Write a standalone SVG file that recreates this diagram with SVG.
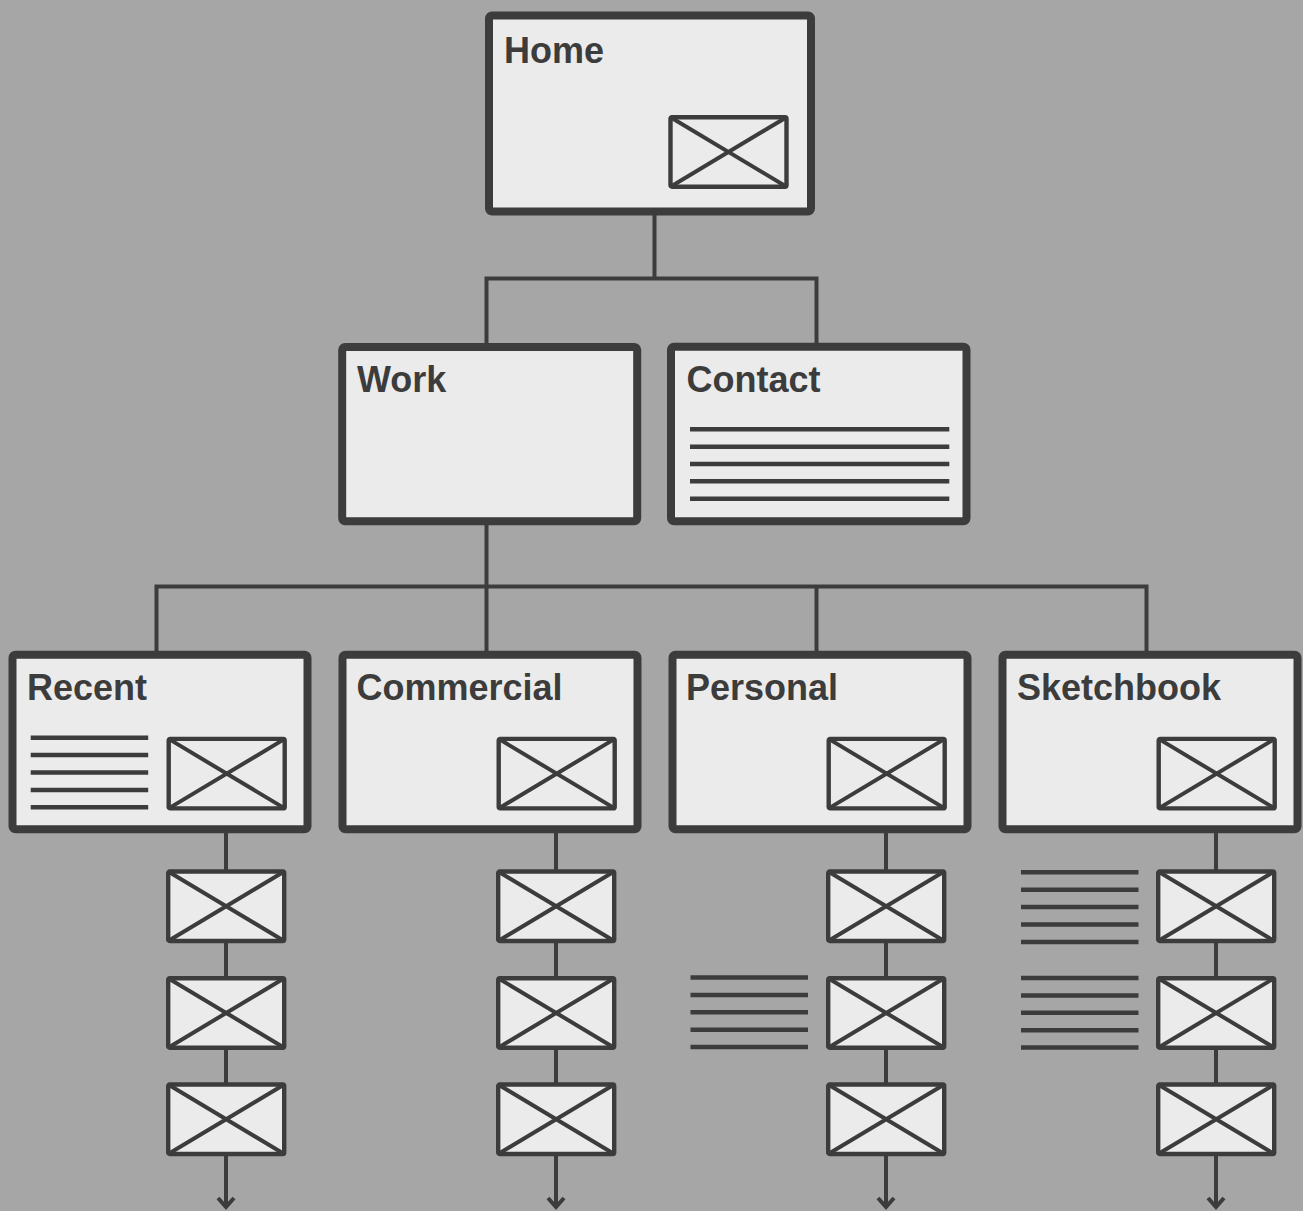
<svg xmlns="http://www.w3.org/2000/svg" width="1303" height="1211" viewBox="0 0 1303 1211">
<defs>
<style>
.box{fill:#ebebeb;stroke:#3c3c3c;stroke-width:8}
.img{fill:#ebebeb;stroke:#3c3c3c;stroke-width:4.4}
.x{stroke:#3c3c3c;stroke-width:4;fill:none}
.ln{stroke:#3c3c3c;stroke-width:4.5;fill:none}
.con{stroke:#3c3c3c;stroke-width:4;fill:none}
.lbl{font-family:"Liberation Sans",Arial,sans-serif;font-weight:bold;font-size:36px;fill:#3c3c3c}
</style>
<marker id="arr" markerUnits="userSpaceOnUse" markerWidth="20" markerHeight="20" refX="0" refY="0" orient="auto" overflow="visible">
<path d="M-9,-8 L0,0 L-9,8" fill="none" stroke="#3c3c3c" stroke-width="4"/>
</marker>
<g id="pic">
<rect class="img" x="0" y="0" width="116" height="69.5" rx="1.5"/>
<path class="x" d="M0,0 L116,69.5 M116,0 L0,69.5"/>
</g>
<g id="lines">
<path class="ln" d="M0,0 H117.5 M0,17.4 H117.5 M0,34.8 H117.5 M0,52.2 H117.5 M0,69.6 H117.5"/>
</g>
</defs>
<rect width="1303" height="1211" fill="#a6a6a6"/>

<g id="connectors">
<path class="con" d="M654.5,215 V278.5 M486.5,343 V278.5 H816.5 V343"/>
<path class="con" d="M486.5,525 V651 M156.5,651 V586.5 H1146.5 V651 M816.5,586.5 V651"/>
<line class="con" x1="226" y1="833" x2="226" y2="1207" marker-end="url(#arr)"/>
<line class="con" x1="556" y1="833" x2="556" y2="1207" marker-end="url(#arr)"/>
<line class="con" x1="886" y1="833" x2="886" y2="1207" marker-end="url(#arr)"/>
<line class="con" x1="1216" y1="833" x2="1216" y2="1207" marker-end="url(#arr)"/>
</g>

<g id="home">
<rect class="box" x="489" y="15.5" width="322" height="196" rx="3"/>
<text class="lbl" x="504" y="63">Home</text>
<use href="#pic" x="670.5" y="117.2"/>
</g>

<g id="work">
<rect class="box" x="342.2" y="347" width="295" height="174.2" rx="3"/>
<text class="lbl" x="357" y="392">Work</text>
</g>

<g id="contact">
<rect class="box" x="671" y="346.8" width="295.5" height="174.4" rx="3"/>
<text class="lbl" x="686.5" y="392">Contact</text>
<path class="ln" d="M690,429.3 H949.3 M690,446.7 H949.3 M690,464 H949.3 M690,481.3 H949.3 M690,498.7 H949.3"/>
</g>

<g id="recent">
<rect class="box" x="12.5" y="654.8" width="295" height="174.4" rx="3"/>
<text class="lbl" x="27" y="700">Recent</text>
<use href="#lines" x="30.7" y="737.7"/>
<use href="#pic" x="168.7" y="738.9"/>
</g>

<g id="commercial">
<rect class="box" x="342.5" y="654.8" width="295" height="174.4" rx="3"/>
<text class="lbl" x="356.5" y="700">Commercial</text>
<use href="#pic" x="498.7" y="738.9"/>
</g>

<g id="personal">
<rect class="box" x="672.5" y="654.8" width="295" height="174.4" rx="3"/>
<text class="lbl" x="686" y="700">Personal</text>
<use href="#pic" x="828.7" y="738.9"/>
</g>

<g id="sketchbook">
<rect class="box" x="1002.5" y="654.8" width="295" height="174.4" rx="3"/>
<text class="lbl" x="1017" y="700">Sketchbook</text>
<use href="#pic" x="1158.7" y="738.9"/>
</g>

<g id="recent-items">
<use href="#pic" x="168.2" y="871.5"/>
<use href="#pic" x="168.2" y="978.2"/>
<use href="#pic" x="168.2" y="1084.5"/>
</g>

<g id="commercial-items">
<use href="#pic" x="498.2" y="871.5"/>
<use href="#pic" x="498.2" y="978.2"/>
<use href="#pic" x="498.2" y="1084.5"/>
</g>

<g id="personal-items">
<use href="#pic" x="828.2" y="871.5"/>
<use href="#pic" x="828.2" y="978.2"/>
<use href="#pic" x="828.2" y="1084.5"/>
<use href="#lines" x="690.5" y="977.5"/>
</g>

<g id="sketchbook-items">
<use href="#pic" x="1158.2" y="871.5"/>
<use href="#pic" x="1158.2" y="978.2"/>
<use href="#pic" x="1158.2" y="1084.5"/>
<use href="#lines" x="1021" y="872.3"/>
<use href="#lines" x="1021" y="978"/>
</g>
</svg>
